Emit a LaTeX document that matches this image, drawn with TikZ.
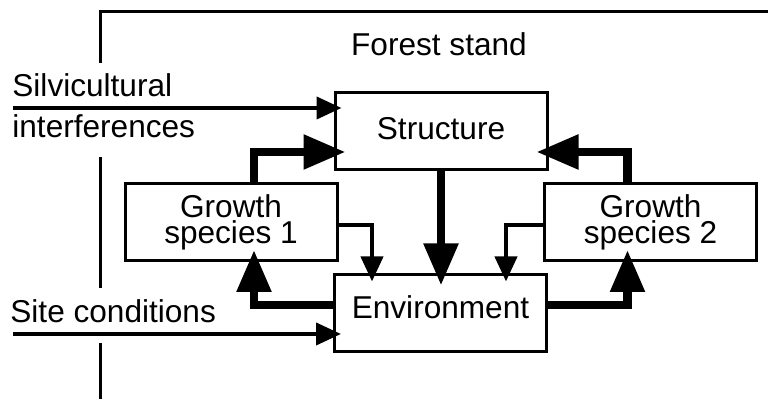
\documentclass[tikz,border=0pt]{standalone}
\usepackage{fontspec}
\setmainfont{Liberation Sans}
\usetikzlibrary{arrows.meta}

\begin{document}
\begin{tikzpicture}[x=0.5pt, y=0.5pt,
    font=\fontsize{15.8}{13}\selectfont,
    box/.style={draw, line width=1.5pt, inner sep=0pt, minimum width=106pt,
        minimum height=38.5pt, align=center},
    inlabel/.style={anchor=base west, inner sep=0pt},
    thinarr/.style={line width=2pt, -{Triangle[length=12.5pt,width=11pt]},
        shorten >=-4pt},
    thickarr/.style={line width=4.25pt, -{Triangle[length=21pt,width=16.5pt]},
        shorten >=-6pt},
    frameline/.style={line width=1.5pt}]
    \useasboundingbox (0,0) rectangle (768,399);

    % Frame of the forest stand, open where the inputs come in
    \draw[frameline] (768,387) -- (100,387) -- (100,336);
    \draw[frameline] (100,242) -- (100,111);
    \draw[frameline] (100,56) -- (100,0);
    \node (stand) at (439,355) {Forest stand};

    % Boxes
    \node[box, text depth=3pt] (struct) at (441,267.5) {Structure};
    \node[box] (gs1) at (231,177) {Growth\\species 1};
    \node[box] (gs2) at (650.5,177) {Growth\\species 2};
    \node[box, text depth=6pt] (env) at (440.5,85.5) {Environment};

    % Inputs from outside
    \node[inlabel] (silv) at (12,302) {Silvicultural};
    \node[inlabel] (interf) at (12,261) {interferences};
    \node[inlabel] (site) at (10,76) {Site conditions};
    \coordinate (silvin) at (13,291);
    \coordinate (sitein) at (13,65);
    \draw[thinarr] (silvin) -- (silvin -| struct.west);
    \draw[thinarr] (sitein) -- (sitein -| env.west);

    % Thick arrows: growth -> structure -> environment -> growth
    \draw[thickarr] ([xshift=11.5pt]gs1.north) |- ([yshift=-10.25pt]struct.west);
    \draw[thickarr] ([xshift=-11.5pt]gs2.north) |- ([yshift=-10.25pt]struct.east);
    \draw[thickarr] (struct.south) -- (struct.south |- env.north);
    \draw[thickarr] ([yshift=4.25pt]env.west) -| ([xshift=11.5pt]gs1.south);
    \draw[thickarr] ([yshift=4.25pt]env.east) -| ([xshift=-11.5pt]gs2.south);

    % Thin arrows: growth -> environment
    \draw[thinarr] ([yshift=-1.5pt]gs1.east) -| ([xshift=-34.25pt]env.north);
    \draw[thinarr] ([yshift=-1.5pt]gs2.west) -| ([xshift=32.75pt]env.north);
\end{tikzpicture}
\end{document}
